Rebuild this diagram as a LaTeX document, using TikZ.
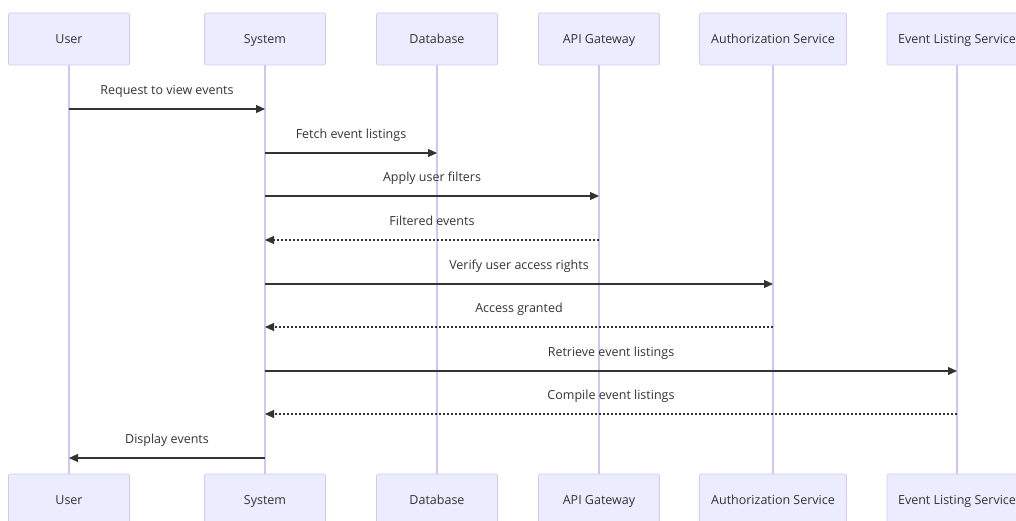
\documentclass[tikz,border=0pt]{standalone}
\usepackage{fontspec}
\setmainfont{Open Sans}
\usetikzlibrary{arrows.meta}
\definecolor{boxfill}{HTML}{ECECFF}
\definecolor{boxline}{HTML}{D3C8F2}
\definecolor{lifeline}{HTML}{D3C5F3}
\definecolor{txt}{HTML}{333333}
\tikzset{
  actor/.style={draw=boxline, fill=boxfill, rounded corners=2pt, minimum height=52pt, inner sep=0pt, text=txt, font=\fontsize{12.5}{14}\selectfont, line width=0.7pt, text height=10.5pt, text depth=1.5pt},
  life/.style={draw=lifeline, line width=1.1pt},
  msg/.style={draw=txt, line width=1.1pt, -{Triangle[length=9pt,width=8pt]}},
  reply/.style={msg, dash pattern=on 2pt off 2pt},
  lbl/.style={text=txt, font=\fontsize{12.5}{14}\selectfont, inner sep=0pt, text height=10.5pt, text depth=1.5pt, midway, yshift=19pt}
}
\begin{document}
\begin{tikzpicture}[x=1pt,y=-1pt]
\useasboundingbox (0,0) rectangle (1016,521);
% lifelines
\foreach \n/\x in {u/69,s/265,d/437,a/599,z/773,e/957}{
  \coordinate (\n t) at (\x,65);
  \coordinate (\n b) at (\x,474);
  \draw[life] (\n t) -- (\n b);
}
% top actors
\node[actor, minimum width=121pt] (uTop) at (69,39) {User};
\node[actor, minimum width=121pt] (sTop) at (265,39) {System};
\node[actor, minimum width=121pt] (dTop) at (437,39) {Database};
\node[actor, minimum width=121pt] (aTop) at (599,39) {API Gateway};
\node[actor, minimum width=147pt] (zTop) at (773,39) {Authorization Service};
\node[actor, minimum width=140pt] (eTop) at (957,39) {Event Listing Service};
% bottom actors
\node[actor, minimum width=121pt] (uBot) at (69,500) {User};
\node[actor, minimum width=121pt] (sBot) at (265,500) {System};
\node[actor, minimum width=121pt] (dBot) at (437,500) {Database};
\node[actor, minimum width=121pt] (aBot) at (599,500) {API Gateway};
\node[actor, minimum width=147pt] (zBot) at (773,500) {Authorization Service};
\node[actor, minimum width=140pt] (eBot) at (957,500) {Event Listing Service};
% message end points on lifelines
\foreach \n/\x in {u/69,s/265,d/437,a/599,z/773,e/957}{
  \foreach \k/\y in {1/109,2/153,3/196,4/240,5/284,6/327,7/371,8/414,9/458}{
    \coordinate (\n p\k) at (\x,\y);
  }
}
% messages
\draw[msg] (up1) -- (sp1) node[lbl] (m1) {Request to view events};
\draw[msg] (sp2) -- (dp2) node[lbl] (m2) {Fetch event listings};
\draw[msg] (sp3) -- (ap3) node[lbl] (m3) {Apply user filters};
\draw[reply] (ap4) -- (sp4) node[lbl] (m4) {Filtered events};
\draw[msg] (sp5) -- (zp5) node[lbl] (m5) {Verify user access rights};
\draw[reply] (zp6) -- (sp6) node[lbl] (m6) {Access granted};
\draw[msg] (sp7) -- (ep7) node[lbl] (m7) {Retrieve event listings};
\draw[reply] (ep8) -- (sp8) node[lbl] (m8) {Compile event listings};
\draw[msg] (sp9) -- (up9) node[lbl] (m9) {Display events};
\end{tikzpicture}
\end{document}
